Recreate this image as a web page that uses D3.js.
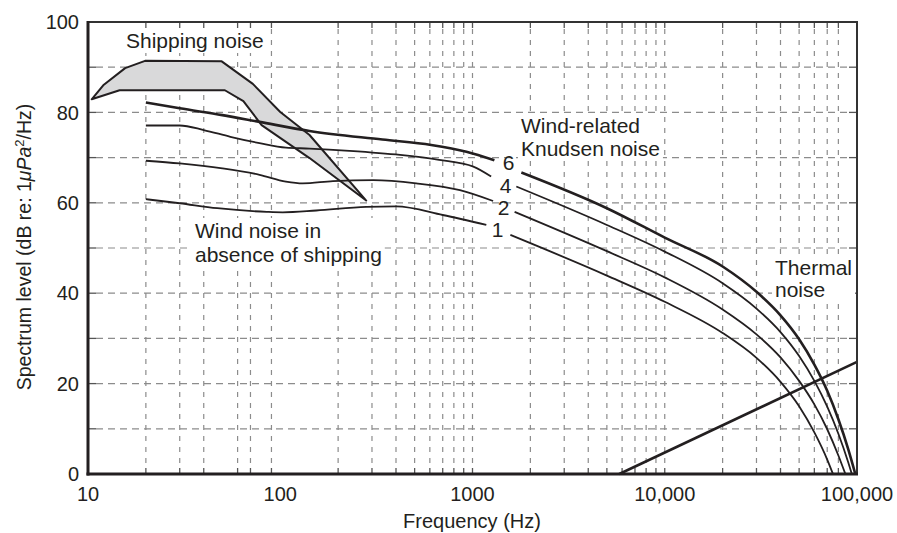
<!DOCTYPE html>
<html>
<head>
<meta charset="utf-8">
<script src="https://cdn.jsdelivr.net/npm/d3@7"></script>
<style>
  body { margin: 0; background: #fff; }
  svg { display: block; font-family: "Liberation Sans", Arial, Helvetica, sans-serif; }
</style>
</head>
<body>
<svg id="chart" width="897" height="533"></svg>
<script>
// frequency (Hz) / level (dB) pairs
const shippingUpper = [[10.45, 82.9], [12, 86], [15.6, 89.8], [19.8, 91.4], [49.6, 91.3], [72, 86.3], [100, 80.1], [142, 75], [280, 60.5]];
const shippingLower = [[10.45, 82.9], [14.6, 84.9], [51.5, 84.9], [64.3, 82.5], [80, 77.2], [142, 69.9], [280, 60.5]];

const wind6Left = [[20, 82.2], [30, 80.9], [50, 79.4], [78, 77.9], [142, 75.9], [340, 74], [610, 72.8], [930, 71.3], [1300, 69.4]];
const wind4Left = [[20, 77.1], [30, 77.1], [40, 76.1], [55, 74.6], [78, 73.2], [107, 72.2], [142, 72], [229, 71.5], [420, 70.6], [670, 69.5], [1010, 68], [1250, 65.8]];
const wind2Left = [[20, 69.3], [30, 68.7], [50, 67.6], [78, 66.2], [107, 64.7], [131, 64.3], [188, 64.8], [305, 65], [510, 64.3], [860, 62.8], [1280, 60.4]];
const wind1Left = [[20, 60.8], [30, 59.9], [47, 58.8], [85, 58], [103, 57.9], [154, 58.3], [280, 59.1], [400, 59.2], [700, 57.3], [1180, 55.1]];

const wind6Right = [[1795, 66.7], [5000, 58.8], [10000, 52.3], [20000, 45.9], [30000, 40.3], [40000, 35.1], [50000, 29.8], [60000, 24.2], [70000, 18.4], [80000, 12.1], [90000, 5.5], [98000, 0]];
const wind4Right = [[1690, 63.6], [5000, 55.1], [10000, 49.2], [20000, 42.2], [30000, 36.6], [40000, 31.4], [50000, 26.1], [60000, 20.6], [70000, 14.9], [80000, 8.9], [90000, 2.6], [94000, 0]];
const wind2Right = [[1656, 58], [5000, 49.3], [10000, 43.5], [20000, 36.4], [30000, 30.9], [40000, 25.8], [50000, 20.6], [60000, 15.4], [70000, 9.9], [80000, 4.1], [87000, 0]];
const wind1Right = [[1574, 52.9], [5000, 43.9], [10000, 38.1], [20000, 31.2], [30000, 25.7], [40000, 20.4], [50000, 15], [60000, 9.2], [70000, 3.2], [75000, 0]];

const thermal = [[5800, 0], [100000, 24.8]];

const windLabels = ["6", "4", "2", "1"];
const windLabelPos = [[1542, 67.3], [1488, 62.2], [1452, 57.2], [1352, 52.4]];

const yTicks = [0, 20, 40, 60, 80, 100];
const yGrid = [10, 20, 30, 40, 50, 60, 70, 80, 90];
const xTicks = [10, 100, 1000, 10000, 100000];
const xTickLabels = ["10", "100", "1000", "10,000", "100,000"];
const xGrid = [20, 30, 40, 60, 70, 90, 200, 300, 400, 500, 600, 700, 800, 900, 1000,
  2000, 3000, 4000, 5000, 6000, 7000, 8000, 9000, 10000,
  20000, 30000, 40000, 50000, 60000, 70000, 80000];

const ink = "#231f20";
const svg = d3.select("#chart");

const x = d3.scaleLog().domain([10, 100000]).range([88, 857]);
const y = d3.scaleLinear().domain([0, 100]).range([474, 22]);

const pLeft = x.range()[0], pRight = x.range()[1];
const pTop = y(100), pBottom = y(0);

// grid
const grid = svg.append("g");
grid.selectAll("line.h")
  .data(yGrid)
  .join("line")
  .attr("x1", pLeft + 8).attr("x2", pRight - 8)
  .attr("y1", d => y(d)).attr("y2", d => y(d))
  .attr("stroke", "#8c8c8c").attr("stroke-width", 1.2)
  .attr("stroke-dasharray", "7,5");
grid.selectAll("line.v")
  .data(xGrid)
  .join("line")
  .attr("x1", d => x(d)).attr("x2", d => x(d))
  .attr("y1", pTop + 7).attr("y2", pBottom - 7)
  .attr("stroke", "#8c8c8c").attr("stroke-width", 1.2)
  .attr("stroke-dasharray", "5,6");

// inner ticks
const ticks = svg.append("g").attr("stroke", "#555").attr("stroke-width", 1.3);
yGrid.forEach(d => {
  ticks.append("line").attr("x1", pLeft).attr("x2", pLeft + 8).attr("y1", y(d)).attr("y2", y(d));
  ticks.append("line").attr("x1", pRight - 8).attr("x2", pRight).attr("y1", y(d)).attr("y2", y(d));
});
xGrid.forEach(d => {
  ticks.append("line").attr("x1", x(d)).attr("x2", x(d)).attr("y1", pTop).attr("y2", pTop + 6);
  ticks.append("line").attr("x1", x(d)).attr("x2", x(d)).attr("y1", pBottom - 6).attr("y2", pBottom);
});

// text with white background patches
function label(lines, px, py, size, lh) {
  const g = svg.append("g");
  const bg = g.append("rect").attr("fill", "#fff");
  const t = g.append("text")
    .attr("x", px).attr("y", py)
    .attr("fill", ink)
    .style("font-size", size + "px");
  lines.forEach((s, i) => {
    t.append("tspan").attr("x", px).attr("dy", i === 0 ? 0 : lh).text(s);
  });
  const b = t.node().getBBox();
  bg.attr("x", b.x - 3).attr("y", b.y - 1).attr("width", b.width + 6).attr("height", b.height + 2);
  return g;
}

label(["Shipping noise"], 126, 48, 21, 0);
label(["Wind-related", "Knudsen noise"], 521, 133, 21, 23);
label(["Wind noise in", "absence of shipping"], 195, 238, 21, 23.5);
label(["Thermal", "noise"], 775, 275, 21, 22);

// shipping band
const line = d3.line().x(d => x(d[0])).y(d => y(d[1]));
const band = shippingUpper.concat(shippingLower.slice(0, -1).reverse());
svg.append("path")
  .attr("d", line(band) + "Z")
  .attr("fill", "#d9d9da")
  .attr("stroke", ink)
  .attr("stroke-width", 2)
  .attr("stroke-linejoin", "round");

// wind curves
const smooth = d3.line().x(d => x(d[0])).y(d => y(d[1])).curve(d3.curveMonotoneX);
const winds = [
  [wind6Left, wind6Right, 2.6],
  [wind4Left, wind4Right, 1.8],
  [wind2Left, wind2Right, 1.8],
  [wind1Left, wind1Right, 1.8]
];
winds.forEach(([l, r, w]) => {
  [l, r].forEach(seg => {
    svg.append("path")
      .attr("d", smooth(seg))
      .attr("fill", "none")
      .attr("stroke", ink)
      .attr("stroke-width", w);
  });
});

svg.selectAll("text.wl")
  .data(windLabels)
  .join("text")
  .attr("class", "wl")
  .attr("x", (d, i) => x(windLabelPos[i][0]))
  .attr("y", (d, i) => y(windLabelPos[i][1]))
  .attr("text-anchor", "middle")
  .attr("fill", ink)
  .style("font-size", "21px")
  .text(d => d);

// thermal noise
svg.append("path")
  .attr("d", line(thermal))
  .attr("stroke", ink)
  .attr("stroke-width", 2.6)
  .attr("fill", "none");

// frame
svg.append("rect")
  .attr("x", pLeft).attr("y", pTop)
  .attr("width", pRight - pLeft).attr("height", pBottom - pTop)
  .attr("fill", "none").attr("stroke", "#333").attr("stroke-width", 2);
svg.append("line").attr("x1", pLeft).attr("x2", pLeft).attr("y1", pTop - 1).attr("y2", pBottom + 1.5)
  .attr("stroke", ink).attr("stroke-width", 3);
svg.append("line").attr("x1", pLeft - 1.5).attr("x2", pRight + 1).attr("y1", pBottom).attr("y2", pBottom)
  .attr("stroke", ink).attr("stroke-width", 3);

// tick labels
svg.selectAll("text.yt")
  .data(yTicks)
  .join("text")
  .attr("class", "yt")
  .attr("x", pLeft - 9)
  .attr("y", d => y(d))
  .attr("dy", "0.36em")
  .attr("text-anchor", "end")
  .attr("fill", ink)
  .style("font-size", "20px")
  .text(d => d);

svg.selectAll("text.xt")
  .data(xTicks)
  .join("text")
  .attr("class", "xt")
  .attr("x", d => x(d))
  .attr("y", 501)
  .attr("text-anchor", "middle")
  .attr("fill", ink)
  .style("font-size", "20px")
  .text((d, i) => xTickLabels[i]);

// axis titles
svg.append("text")
  .attr("x", 472)
  .attr("y", 528)
  .attr("text-anchor", "middle")
  .attr("fill", ink)
  .style("font-size", "20px")
  .text("Frequency (Hz)");

const yt = svg.append("text")
  .attr("transform", "translate(31,247) rotate(-90)")
  .attr("text-anchor", "middle")
  .attr("fill", ink)
  .style("font-size", "19.5px");
yt.append("tspan").text("Spectrum level (dB re: 1");
yt.append("tspan").style("font-style", "italic").text("\u03bcPa");
yt.append("tspan").attr("dy", -7).style("font-size", "13px").text("2");
yt.append("tspan").attr("dy", 7).text("/Hz)");
</script>
</body>
</html>
